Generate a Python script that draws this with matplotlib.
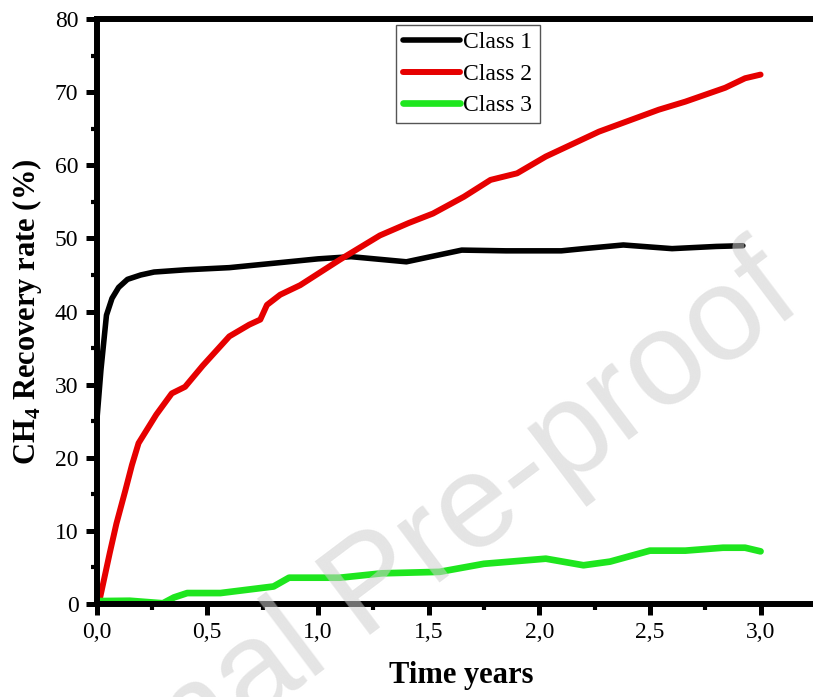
import matplotlib
matplotlib.use('Agg')
import matplotlib.pyplot as plt
from matplotlib.ticker import MultipleLocator, FuncFormatter

plt.rcParams['font.family'] = ['Liberation Serif', 'DejaVu Serif']
plt.rcParams['mathtext.fontset'] = 'custom'
plt.rcParams['mathtext.rm'] = 'Liberation Serif'
plt.rcParams['mathtext.bf'] = 'Liberation Serif:bold'

# Class 1
t1 = [0.0, 0.02, 0.045, 0.07, 0.10, 0.14, 0.20, 0.26, 0.40, 0.60, 0.80, 1.00,
      1.15, 1.40, 1.65, 1.85, 2.10, 2.20, 2.38, 2.60, 2.80, 2.92]
c1 = [24.5, 32.0, 39.5, 41.8, 43.3, 44.4, 45.0, 45.4, 45.7, 46.0, 46.6, 47.2,
      47.5, 46.8, 48.4, 48.3, 48.3, 48.6, 49.1, 48.6, 48.9, 49.0]

# Class 2
t2 = [0.01, 0.06, 0.09, 0.13, 0.16, 0.19, 0.27, 0.34, 0.40, 0.48, 0.60, 0.69,
      0.74, 0.77, 0.83, 0.92, 1.10, 1.28, 1.41, 1.52, 1.66, 1.78, 1.90, 2.03,
      2.27, 2.54, 2.66, 2.84, 2.93, 3.00]
c2 = [0.0, 7.0, 11.0, 15.5, 19.0, 22.0, 25.9, 28.8, 29.7, 32.6, 36.6, 38.2,
      38.9, 40.9, 42.3, 43.6, 47.1, 50.4, 52.1, 53.4, 55.7, 58.0, 58.9, 61.2,
      64.6, 67.6, 68.7, 70.6, 71.9, 72.4]

# Class 3
t3 = [0.0, 0.15, 0.30, 0.35, 0.41, 0.56, 0.80, 0.87, 1.10, 1.29, 1.55, 1.75,
      2.03, 2.20, 2.32, 2.50, 2.66, 2.83, 2.93, 3.00]
c3 = [0.4, 0.45, 0.1, 0.9, 1.5, 1.5, 2.4, 3.6, 3.6, 4.2, 4.4, 5.5,
      6.2, 5.3, 5.8, 7.3, 7.3, 7.7, 7.7, 7.2]

labels = ['Class 1', 'Class 2', 'Class 3']
colors = ['black', '#e60000', '#1ee61e']

fig = plt.figure(figsize=(8.13, 6.97), dpi=100)
# right spine falls just outside the picture, as in the original crop
ax = fig.add_axes([0.1187, 0.1334, 0.8985, 0.8393])

ax.plot(t1, c1, color=colors[0], lw=4.0, label=labels[0], solid_capstyle='round')
ax.plot(t2, c2, color=colors[1], lw=4.3, label=labels[1], solid_capstyle='round')
ax.plot(t3, c3, color=colors[2], lw=4.8, label=labels[2], solid_capstyle='round')

ax.set_xlim(0, 3.3)
ax.set_ylim(0, 80)
ax.xaxis.set_major_locator(MultipleLocator(0.5))
ax.xaxis.set_minor_locator(MultipleLocator(0.25))
ax.yaxis.set_major_locator(MultipleLocator(10))
ax.yaxis.set_minor_locator(MultipleLocator(5))
ax.xaxis.set_major_formatter(FuncFormatter(lambda v, p: f'{v:.1f}'.replace('.', ',')))
ax.yaxis.set_major_formatter(FuncFormatter(lambda v, p: f'{v:.0f}'))

for s in ax.spines.values():
    s.set_linewidth(4.3)
ax.tick_params(which='major', direction='out', length=8, width=3.6, labelsize=17, pad=5)
ax.tick_params(which='minor', direction='out', length=4, width=3.0)

ax.set_xlabel('Time years', fontsize=22, fontweight='bold', labelpad=13)
ax.set_ylabel(r'CH$_\mathbf{4}$ Recovery rate (%)', fontsize=22, fontweight='bold', labelpad=8)

leg = ax.legend(loc='upper left', bbox_to_anchor=(0.41, 0.99), fontsize=17,
                handlelength=2.4, handletextpad=0.15, labelspacing=0.42,
                borderpad=0.3, borderaxespad=0, fancybox=False, framealpha=1)
leg.get_frame().set_edgecolor('#555555')
leg.get_frame().set_linewidth(1.0)

# faint watermark
fig.text(0.46, 0.155, 'Journal Pre-proof', fontsize=96, family='Liberation Sans',
         color='#cfcfcf', alpha=0.55, rotation=37, ha='center', va='center',
         zorder=10)

fig.savefig('out.png', dpi=100)
